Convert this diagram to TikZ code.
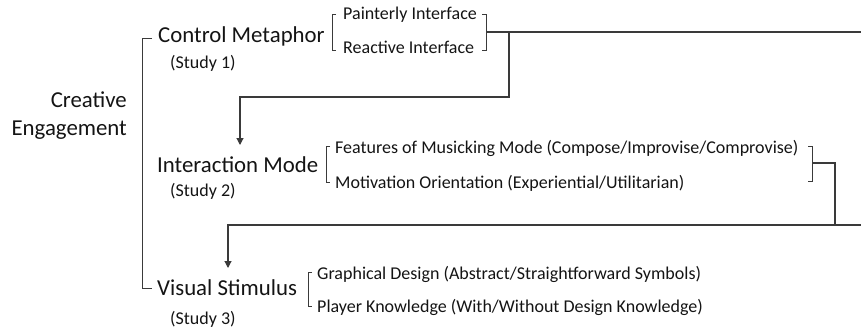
\documentclass[tikz,border=0pt]{standalone}
\usepackage{fontspec}
\setmainfont{Carlito}
\usetikzlibrary{arrows.meta}
\definecolor{linegray}{HTML}{3A3A3A}
\definecolor{textgray}{HTML}{141414}
\tikzset{
  bigtext/.style={inner sep=0pt, text=textgray, font=\fontsize{22.8}{27}\selectfont},
  smalltext/.style={inner sep=0pt, text=textgray, font=\fontsize{18}{21}\selectfont},
  conn/.style={draw=linegray, line width=1.1pt},
  brack/.style={draw=linegray, line width=0.9pt},
  arr/.style={conn, -{Triangle[length=7pt,width=7pt]}}
}
\begin{document}
\begin{tikzpicture}[x=1pt,y=-1pt]
\useasboundingbox (0,0) rectangle (861,329);

% root label
\node[bigtext, anchor=base east] (ce1) at (127,107) {Creative};
\node[bigtext, anchor=base east] (ce2) at (127,135) {Engagement};

% main factors
\node[bigtext, anchor=base west] (cm) at (158,43) {Control Metaphor};
\node[smalltext, anchor=base west] (s1) at (170,68) {(Study 1)};
\node[bigtext, anchor=base west] (im) at (157,172) {Interaction Mode};
\node[smalltext, anchor=base west] (s2) at (170,196) {(Study 2)};
\node[bigtext, anchor=base west] (vs) at (157,295) {Visual Stimulus};
\node[smalltext, anchor=base west] (s3) at (170,324) {(Study 3)};

% sub-factors
\node[smalltext, anchor=base west] (pi) at (343,20) {Painterly Interface};
\node[smalltext, anchor=base west] (ri) at (343,54) {Reactive Interface};
\node[smalltext, anchor=base west] (fm) at (335,153) {Features of Musicking Mode (Compose/Improvise/Comprovise)};
\node[smalltext, anchor=base west] (mo) at (335,188) {Motivation Orientation (Experiential/Utilitarian)};
\node[smalltext, anchor=base west] (gd) at (317,279) {Graphical Design (Abstract/Straightforward Symbols)};
\node[smalltext, anchor=base west] (pk) at (317,312) {Player Knowledge (With/Without Design Knowledge)};

% root bracket
\draw[brack] (152,38) -- (142,38) -- (142,288) -- (152,288);

% sub-factor brackets
\draw[brack] (336,14) -- (332,14) -- (332,50) -- (336,50);
\draw[brack] (482,14) -- (486,14) -- (486,50) -- (482,50);
\draw[brack] (330,146) -- (326,146) -- (326,182) -- (330,182);
\draw[brack] (808,146) -- (812,146) -- (812,181) -- (808,181);
\draw[brack] (312,272) -- (308,272) -- (308,306) -- (312,306);

% connector points
\coordinate (cmR) at (486,32);
\coordinate (cmEnd) at (861,32);
\coordinate (j1) at (509,32);
\coordinate (a1) at (240,145);
\coordinate (imR) at (812,163);
\coordinate (j2) at (835,163);
\coordinate (h2) at (835,225);
\coordinate (h2End) at (861,225);
\coordinate (a2) at (228,268);

% links between studies
\draw[conn] (cmR) -- (cmEnd);
\draw[arr] (j1) -- ++(0,65) -| (a1);
\draw[conn] (imR) -- (j2) -- (h2);
\draw[conn] (h2End) -- (h2);
\draw[arr] (h2) -| (a2);
\end{tikzpicture}
\end{document}
